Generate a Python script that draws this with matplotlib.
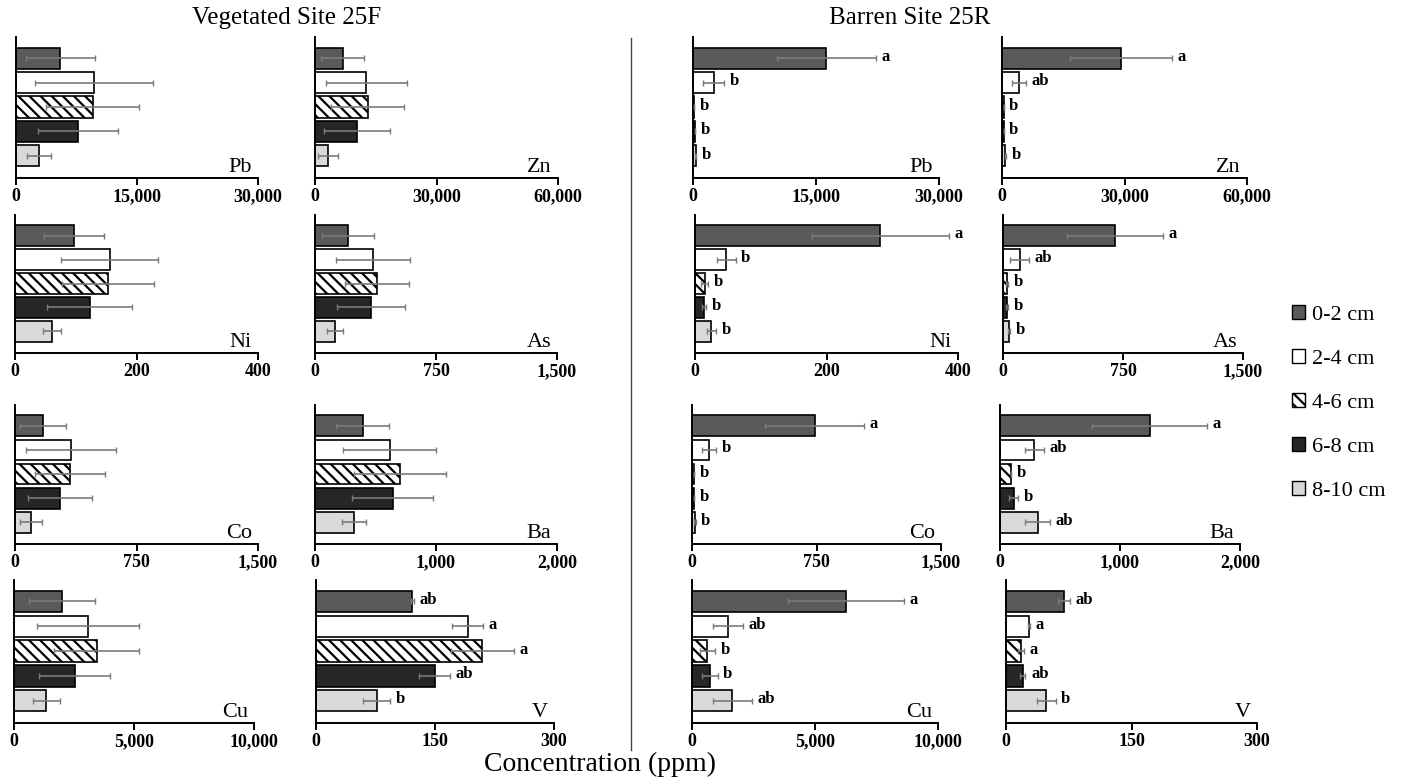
import matplotlib
matplotlib.use("Agg")
import matplotlib.pyplot as plt
from matplotlib.lines import Line2D
from matplotlib.patches import Patch
from matplotlib.ticker import FuncFormatter

plt.rcParams['font.family'] = ['Liberation Serif', 'DejaVu Serif']
plt.rcParams['hatch.linewidth'] = 1.6

# ---------------- data ----------------
depths = ['0-2 cm', '2-4 cm', '4-6 cm', '6-8 cm', '8-10 cm']
elements = ['Pb', 'Zn', 'Ni', 'As', 'Co', 'Ba', 'Cu', 'V']
axis_max = [30000, 60000, 400, 1500, 1500, 2000, 10000, 300]

# Vegetated Site 25F (mean, sd)
pb_veg = [5500, 9700, 9500, 7700, 2900]
pb_veg_sd = [4300, 7300, 5800, 5000, 1500]
zn_veg = [6900, 12700, 13000, 10300, 3300]
zn_veg_sd = [5300, 9900, 9000, 8200, 2500]
ni_veg = [97, 156, 153, 123, 61]
ni_veg_sd = [49, 80, 75, 70, 15]
as_veg = [204, 358, 383, 346, 123]
as_veg_sd = [160, 230, 200, 210, 50]
co_veg = [173, 346, 340, 278, 99]
co_veg_sd = [140, 280, 215, 200, 68]
ba_veg = [395, 617, 700, 642, 321]
ba_veg_sd = [220, 387, 380, 337, 100]
cu_veg = [1990, 3090, 3440, 2530, 1340]
cu_veg_sd = [1370, 2130, 1780, 1470, 560]
v_veg = [121.6, 191, 209.5, 149.4, 76.6]
v_veg_sd = [2, 20, 39.5, 20, 17]
v_veg_letters = ['ab', 'a', 'a', 'ab', 'b']

# Barren Site 25R (mean, sd, letters)
pb_bar = [16260, 2520, 160, 240, 325]
pb_bar_sd = [6000, 1250, 0, 0, 60]
pb_bar_letters = ['a', 'b', 'b', 'b', 'b']
zn_bar = [29100, 4100, 400, 400, 800]
zn_bar_sd = [12500, 1750, 0, 0, 150]
zn_bar_letters = ['a', 'ab', 'b', 'b', 'b']
ni_bar = [282, 47.8, 14.7, 14.2, 25]
ni_bar_sd = [104, 14, 5, 3, 7]
ni_bar_letters = ['a', 'b', 'b', 'b', 'b']
as_bar = [700, 105, 25, 25, 37]
as_bar_sd = [300, 60, 5, 5, 8]
as_bar_letters = ['a', 'ab', 'b', 'b', 'b']
co_bar = [738, 105, 12, 12, 18]
co_bar_sd = [300, 42, 2, 2, 4]
co_bar_letters = ['a', 'b', 'b', 'b', 'b']
ba_bar = [1247, 286, 92, 114, 314]
ba_bar_sd = [478, 80, 0, 36, 103]
ba_bar_letters = ['a', 'ab', 'b', 'b', 'ab']
cu_bar = [6255, 1452, 624, 719, 1642]
cu_bar_sd = [2347, 610, 312, 326, 787]
cu_bar_letters = ['a', 'ab', 'b', 'b', 'ab']
v_bar = [68.9, 27.1, 17.9, 20.3, 48.2]
v_bar_sd = [7, 1, 4, 3, 11]
v_bar_letters = ['ab', 'a', 'a', 'ab', 'b']

# ---------------- styles ----------------
face = ['#5a5a5a', '#ffffff', '#ffffff', '#262626', '#d9d9d9']
hatches = [None, None, '\\\\\\', None, None]

W, H = 1405, 780
fig = plt.figure(figsize=(W / 100, H / 100), dpi=100)

rows_px = [(37, 178), (215, 353), (405, 544), (580, 723)]
cols_px = [
    [(16, 258), (315, 558), (693, 939), (1002, 1247)],
    [(15, 258), (315, 557), (695, 958), (1003, 1243)],
    [(15, 258), (315, 557), (692, 941), (1000, 1240)],
    [(14, 254), (316, 554), (692, 938), (1006, 1257)],
]

panels = [
    [(pb_veg, pb_veg_sd, None, 0), (zn_veg, zn_veg_sd, None, 1),
     (pb_bar, pb_bar_sd, pb_bar_letters, 0), (zn_bar, zn_bar_sd, zn_bar_letters, 1)],
    [(ni_veg, ni_veg_sd, None, 2), (as_veg, as_veg_sd, None, 3),
     (ni_bar, ni_bar_sd, ni_bar_letters, 2), (as_bar, as_bar_sd, as_bar_letters, 3)],
    [(co_veg, co_veg_sd, None, 4), (ba_veg, ba_veg_sd, None, 5),
     (co_bar, co_bar_sd, co_bar_letters, 4), (ba_bar, ba_bar_sd, ba_bar_letters, 5)],
    [(cu_veg, cu_veg_sd, None, 6), (v_veg, v_veg_sd, v_veg_letters, 7),
     (cu_bar, cu_bar_sd, cu_bar_letters, 6), (v_bar, v_bar_sd, v_bar_letters, 7)],
]

fmt = FuncFormatter(lambda v, p: '{:,.0f}'.format(v))

for r in range(4):
    y0, y1 = rows_px[r]
    for c in range(4):
        x0, x1 = cols_px[r][c]
        ax = fig.add_axes([x0 / W, 1 - y1 / H, (x1 - x0) / W, (y1 - y0) / H])
        vals, sds, letters, ei = panels[r][c]
        xm = axis_max[ei]
        pos = list(range(len(depths)))
        for i in pos:
            ax.barh(i, vals[i], height=0.86, color=face[i], edgecolor='black',
                    linewidth=1.2, hatch=hatches[i], zorder=2)
        ax.errorbar(vals, pos, xerr=sds, fmt='none', ecolor='#7a7a7a',
                    elinewidth=1.2, capsize=2.5, capthick=1.0, zorder=3)
        if letters:
            for i in pos:
                ax.annotate(letters[i], (vals[i] + sds[i], i), xytext=(4, 1),
                            textcoords='offset points', ha='left', va='center',
                            fontsize=12, fontweight='bold', zorder=4)
        ax.set_xlim(0, xm)
        ax.set_ylim(4.9, -0.86)
        ax.set_xticks([0, xm / 2, xm])
        ax.xaxis.set_major_formatter(fmt)
        ax.set_yticks([])
        for s in ['top', 'right']:
            ax.spines[s].set_visible(False)
        for s in ['left', 'bottom']:
            ax.spines[s].set_linewidth(1.4)
            ax.spines[s].set_color('black')
        ax.tick_params(axis='x', direction='out', length=5, width=1.4, pad=2.5,
                       labelsize=13)
        for lab in ax.get_xticklabels():
            lab.set_fontweight('bold')
        ax.patch.set_alpha(0)
        ax.text(0.975, 0.04, elements[ei], transform=ax.transAxes, ha='right',
                va='baseline', fontsize=16)

# titles
fig.text(287 / W, 1 - 18 / H, 'Vegetated Site 25F', ha='center', va='center', fontsize=18)
fig.text(910 / W, 1 - 18 / H, 'Barren Site 25R', ha='center', va='center', fontsize=18)
fig.text(600 / W, 1 - 764 / H, 'Concentration (ppm)', ha='center', va='center', fontsize=20)

# divider
fig.add_artist(Line2D([631 / W, 631 / W], [1 - 38 / H, 1 - 750 / H],
                      color='#444444', linewidth=1.0))

# legend
handles = [Patch(facecolor=face[i], edgecolor='black', linewidth=1.0,
                 hatch=hatches[i]) for i in range(5)]
fig.legend(handles, depths, loc='upper left', bbox_to_anchor=(1281 / W, 1 - 294 / H),
           frameon=False, fontsize=16, handlelength=0.6, handleheight=0.6,
           handletextpad=0.3, labelspacing=1.08, borderpad=0)

fig.savefig('out.png', dpi=100)
